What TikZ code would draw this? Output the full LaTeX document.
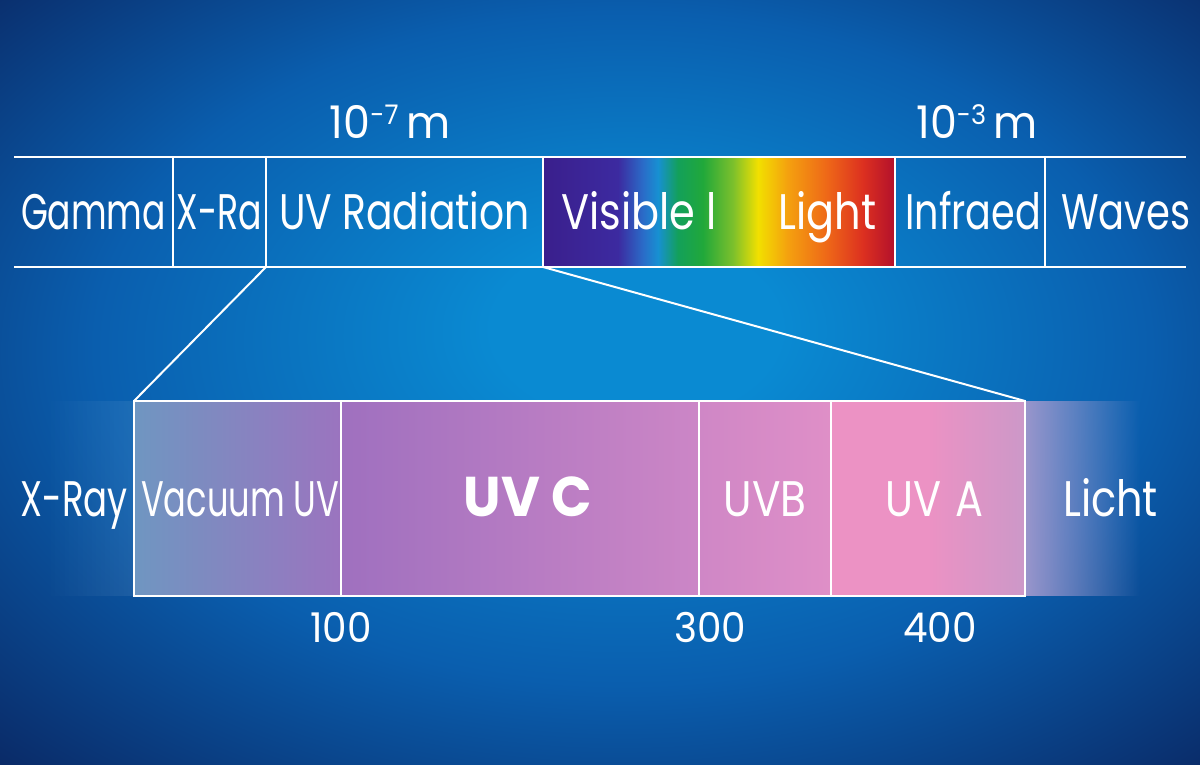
\documentclass[tikz,border=0pt]{standalone}
\usepackage{graphicx}
\usepackage{fontspec}
\setmainfont{Poppins}[FakeStretch=0.74]
\newfontfamily\widebold{Poppins}[FakeStretch=0.95]
\usetikzlibrary{positioning,backgrounds,fadings}
\definecolor{deep}{HTML}{0A2560}
\definecolor{mid}{HTML}{0A5EAE}
\definecolor{glow}{HTML}{0A8AD2}
\definecolor{spA}{HTML}{3A1F8C}
\definecolor{spB}{HTML}{3C2AA0}
\definecolor{spC}{HTML}{2A6CC8}
\definecolor{spD}{HTML}{1790D2}
\definecolor{spE}{HTML}{13A05A}
\definecolor{spF}{HTML}{21A83A}
\definecolor{spG}{HTML}{7CC02C}
\definecolor{spH}{HTML}{F2E000}
\definecolor{spI}{HTML}{F4A00F}
\definecolor{spJ}{HTML}{EE6618}
\definecolor{spK}{HTML}{DC3020}
\definecolor{spL}{HTML}{B2102C}
\definecolor{vuvl}{HTML}{6F96C1}
\definecolor{vuvr}{HTML}{9B74BF}
\definecolor{uvcl}{HTML}{9F70BF}
\definecolor{uvcr}{HTML}{CC86C6}
\definecolor{uvbl}{HTML}{CF87C6}
\definecolor{uvbr}{HTML}{DF8FC7}
\definecolor{uval}{HTML}{EC92C4}
\definecolor{uvar}{HTML}{CC98C8}
\definecolor{lilac}{HTML}{9A96CC}
\newcommand\lbl[2][1]{\makebox[0pt]{\scalebox{#1}[1]{#2}}}
\tikzfading[name=fade right,left color=transparent!0,right color=transparent!100]
\tikzfading[name=fade left,left color=transparent!100,right color=transparent!0]
\pgfdeclareradialshading{bgglow}{\pgfpoint{1.7bp}{4bp}}{color(0bp)=(glow); color(6bp)=(glow); color(22bp)=(mid); color(38bp)=(deep); color(50bp)=(deep)}
\tikzset{
  cell/.style={minimum height=110pt,inner sep=0pt,outer sep=0pt,text=white,
    font=\fontsize{50}{50}\selectfont,text height=35pt,text depth=0pt},
  band/.style={cell,minimum height=195pt},
  plain/.style={inner sep=0pt,text=white,font=\fontsize{50}{50}\selectfont,text height=35pt,text depth=0pt},
  toplbl/.style={inner sep=0pt,text=white,font=\widebold\fontsize{45}{45}\selectfont},
  num/.style={inner sep=0pt,text=white,font=\widebold\fontsize{41}{41}\selectfont},
  rule/.style={draw=white,line width=2.5pt},
}
\begin{document}
\begin{tikzpicture}[x=1pt,y=-1pt]
\useasboundingbox (0,0) rectangle (1200,765);
% full spectrum
\node[cell,anchor=north west,minimum width=159pt] (gamma) at (14,157) {\lbl[0.935]{Gamma}};
\node[cell,right=0pt of gamma,minimum width=93pt] (xra) {\lbl[0.94]{X-Ra}};
\node[cell,right=0pt of xra,minimum width=277pt] (uvrad) {\lbl[1.06]{UV Radiation}};
\node[cell,right=0pt of uvrad,minimum width=352pt] (vis) {\lbl[1.12]{Visible l\hspace{55pt}Light}};
\node[cell,right=0pt of vis,minimum width=150pt] (infra) {\lbl[1.03]{\hspace{6pt}Infraed}};
\node[cell,right=0pt of infra,minimum width=141pt] (waves) {\lbl[1.04]{\hspace{20pt}Waves}};
\node[toplbl] (em7) at (390,122) {10\raisebox{14pt}{\fontsize{27}{27}\selectfont -7}\,m};
\node[toplbl] (em3) at (977,122) {10\raisebox{14pt}{\fontsize{27}{27}\selectfont -3}\,m};
% UV detail
\node[band,anchor=north west,minimum width=207pt,left color=vuvl,right color=vuvr] (vuv) at (134,401) {\lbl[0.91]{\hspace{6pt}Vacuum UV}};
\node[band,right=0pt of vuv,minimum width=358pt,left color=uvcl,right color=uvcr] (uvc) {\lbl{\hspace{16pt}\widebold\bfseries\fontsize{56}{56}\selectfont UV C}};
\node[band,right=0pt of uvc,minimum width=132pt,left color=uvbl,right color=uvbr] (uvb) {\lbl[1.14]{UVB}};
\node[band,right=0pt of uvb,minimum width=194pt,left color=uval,right color=uvar,middle color=uval] (uva) {\lbl[1.12]{\hspace{12pt}UV\hspace{3pt} A}};
\node[plain,left=6pt of vuv] (xray) {\scalebox{0.96}[1]{X-Ray}};
\node[plain,right=38pt of uva] (licht) {\scalebox{1.12}[1]{Licht}};
\node[num] (n100) at ([yshift=-31pt]vuv.south east) {100};
\node[num] (n300) at ([xshift=11pt,yshift=-31pt]uvc.south east) {300};
\node[num] (n400) at ([xshift=12pt,yshift=-31pt]uva.south) {400};
% lines
\draw[rule] (gamma.north west) -- (waves.north east);
\draw[rule] (gamma.south west) -- (waves.south east);
\foreach \n in {gamma,xra,uvrad,vis,infra}
  \draw[rule] (\n.north east) -- (\n.south east);
\draw[rule] (vuv.north west) rectangle (uva.south east);
\foreach \n in {vuv,uvc,uvb}
  \draw[rule] (\n.north east) -- (\n.south east);
\draw[rule,line width=2pt] (uvrad.south west) -- (vuv.north west);
\draw[rule,line width=2pt] (uvrad.south east) -- (uva.north east);
\begin{scope}[on background layer]
\shade[shading=bgglow] (0,0) rectangle (1200,765);
\foreach \a/\b/\ca/\cb in {0/75/spA/spB,75/100/spB/spC,100/115/spC/spD,115/135/spD/spE,
  135/160/spE/spF,160/190/spF/spG,190/215/spG/spH,215/245/spH/spI,245/285/spI/spJ,
  285/320/spJ/spK,320/352/spK/spL}
  \shade[left color=\ca,right color=\cb] ([xshift=\a pt]vis.north west) rectangle ([xshift=\b pt]vis.south west);
\fill[lilac,path fading=fade right] (uva.north east) rectangle ([xshift=115pt]uva.south east);
\fill[white,opacity=0.08,path fading=fade left] ([xshift=-90pt]vuv.north west) rectangle (vuv.south west);
\end{scope}
\end{tikzpicture}
\end{document}
